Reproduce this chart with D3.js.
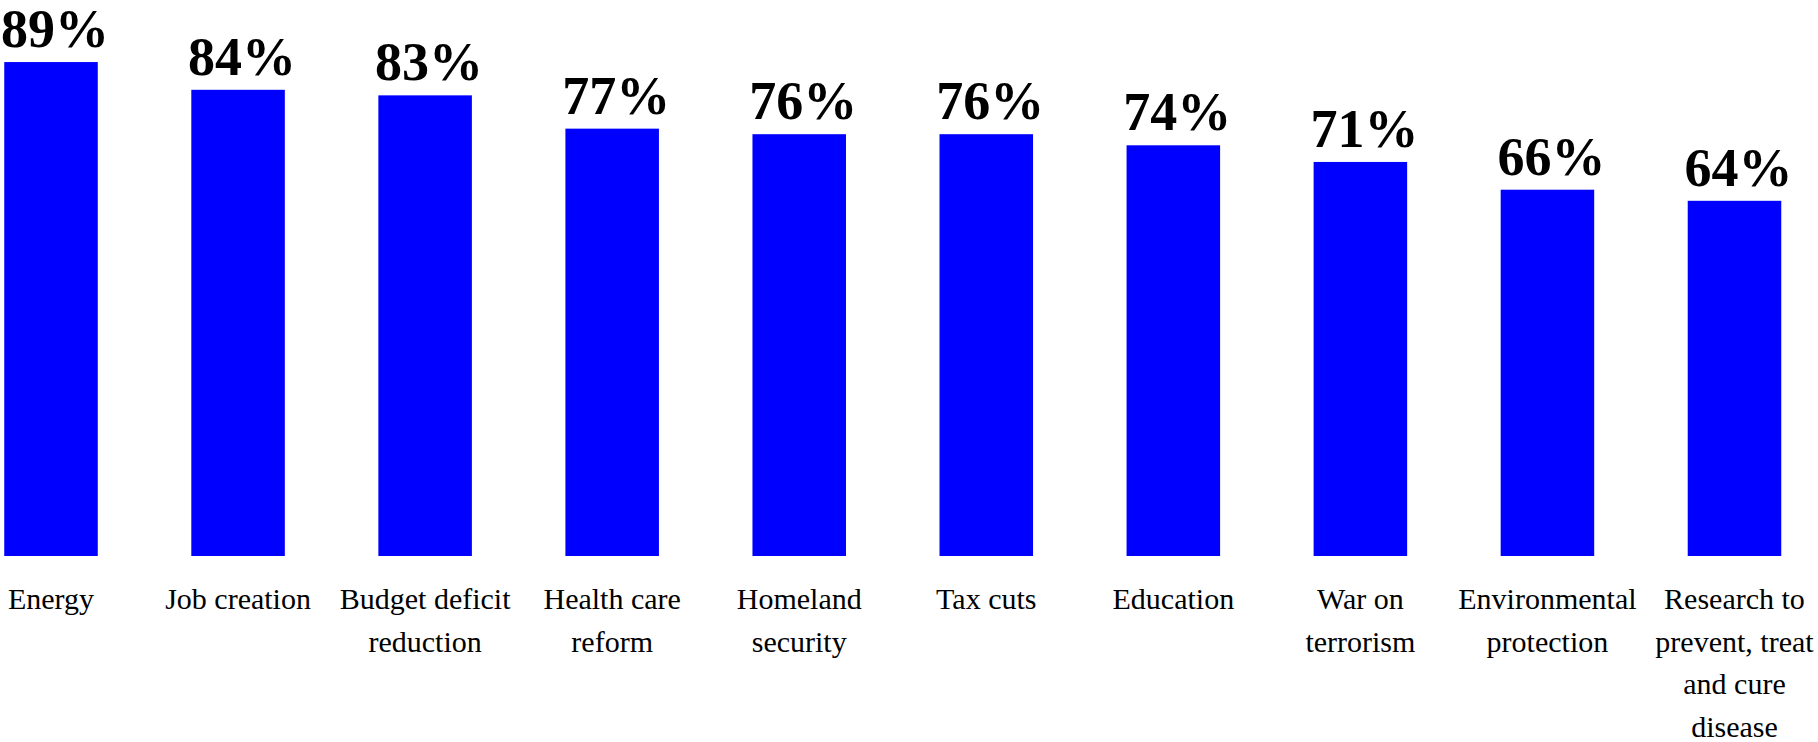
<!DOCTYPE html>
<html>
<head>
<meta charset="utf-8">
<script src="https://cdn.jsdelivr.net/npm/d3@7"></script>
<style>
  html, body { margin: 0; padding: 0; background: #ffffff; }
  svg { display: block; }
  text { font-family: "Liberation Serif", "Times New Roman", Times, serif; }
</style>
</head>
<body>
<script>
// ---- data ----
const categories = [
  "Energy", "Job creation", "Budget deficit reduction", "Health care reform",
  "Homeland security", "Tax cuts", "Education", "War on terrorism",
  "Environmental protection", "Research to prevent, treat and cure disease"
];
const categoryLines = [
  ["Energy"],
  ["Job creation"],
  ["Budget deficit", "reduction"],
  ["Health care", "reform"],
  ["Homeland", "security"],
  ["Tax cuts"],
  ["Education"],
  ["War on", "terrorism"],
  ["Environmental", "protection"],
  ["Research to", "prevent, treat", "and cure", "disease"]
];
const values = [89, 84, 83, 77, 76, 76, 74, 71, 66, 64];

// ---- layout ----
const W = 1818, H = 742;
const svg = d3.select("body").append("svg").attr("width", W).attr("height", H);

const x = d3.scaleBand()
  .domain(categories)
  .range([4.25, 1781.25])
  .paddingInner(0.5)
  .paddingOuter(0);

const y = d3.scaleLinear().domain([0, 100]).range([556, 1]);

// bars
svg.append("g").selectAll("rect")
  .data(values)
  .join("rect")
  .attr("x", (d, i) => x(categories[i]))
  .attr("y", d => y(d))
  .attr("width", x.bandwidth())
  .attr("height", d => y(0) - y(d))
  .attr("fill", "#0000ff");

// value labels
svg.append("g").selectAll("text")
  .data(values)
  .join("text")
  .attr("x", (d, i) => x(categories[i]) + x.bandwidth() / 2 + 4)
  .attr("y", d => y(d) - 15)
  .attr("text-anchor", "middle")
  .style("font-weight", "bold")
  .style("font-size", "54px")
  .attr("fill", "#000")
  .text(d => d + "%");

// category axis
const axis = d3.axisBottom(x).tickSize(0).tickPadding(0);
const gx = svg.append("g").attr("transform", "translate(0,556)").call(axis);
gx.attr("font-family", null).attr("font-size", null);
gx.select(".domain").remove();
gx.selectAll(".tick text").each(function(d) {
  const i = categories.indexOf(d);
  const t = d3.select(this);
  t.text(null)
    .attr("y", 0)
    .attr("dy", null)
    .style("font-size", "30px")
    .attr("fill", "#000")
    .attr("text-anchor", "middle");
  categoryLines[i].forEach((line, k) => {
    t.append("tspan")
      .attr("x", 0)
      .attr("y", 53 + k * 42.5)
      .text(line);
  });
});
</script>
</body>
</html>
